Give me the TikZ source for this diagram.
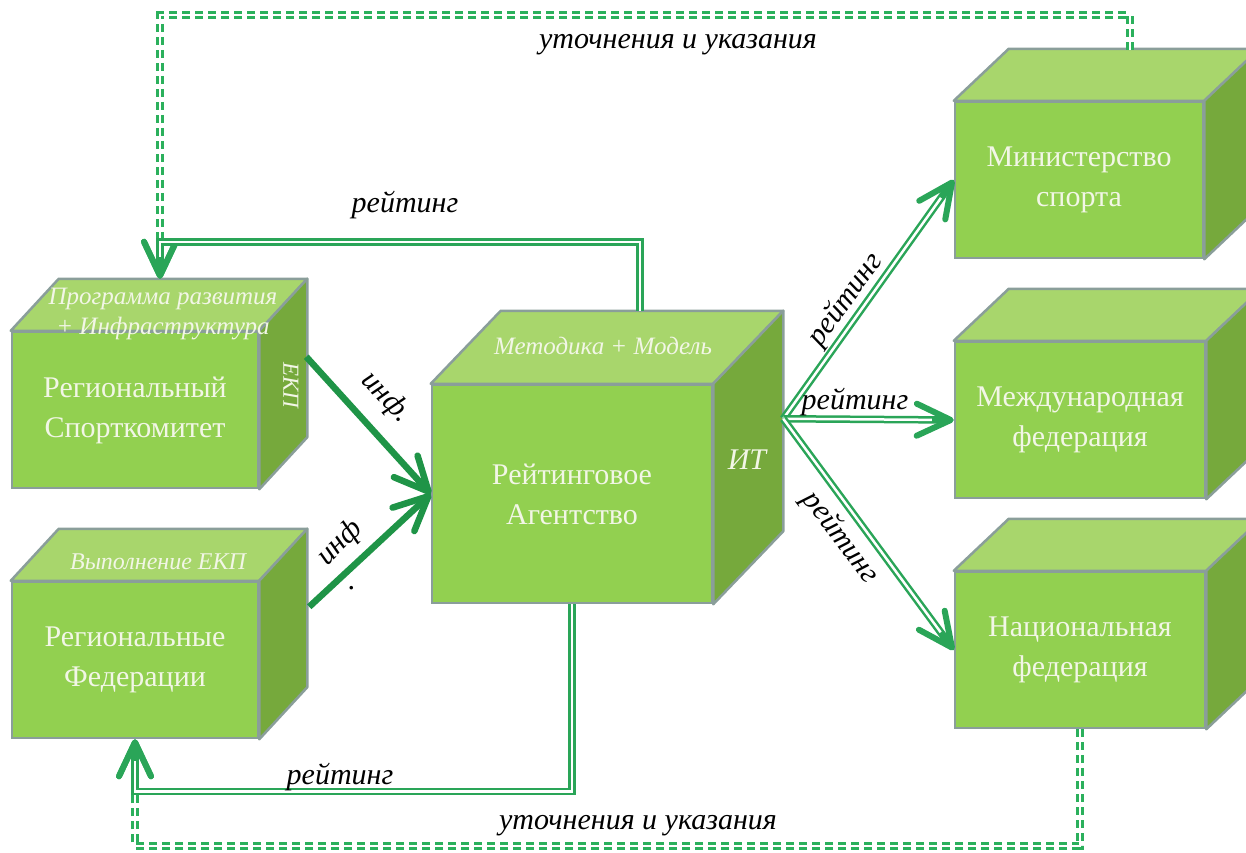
\documentclass[tikz,border=0pt]{standalone}
\usepackage{fontspec}
\setmainfont{Liberation Serif}
\usetikzlibrary{positioning, arrows.meta}
\definecolor{boxfront}{HTML}{92D050}
\definecolor{boxtop}{HTML}{A8D66C}
\definecolor{boxside}{HTML}{76A93C}
\definecolor{boxedge}{HTML}{8A9E9A}
\definecolor{boxtext}{HTML}{F2F6E6}
\definecolor{arrowgreen}{HTML}{1F9447}
\definecolor{linegreen}{HTML}{2AA558}
\definecolor{dashgreen}{HTML}{2BB05C}
\tikzstyle{arrow} = [line width=6.5pt, -{Straight Barb[length=34pt,width=32pt,line width=6.5pt,round]}]

% top and side faces of a box drawn round a named front face
\newcommand{\cubefaces}[3]{%
  \draw[draw=boxedge, line width=2.5pt, line join=round, fill=boxtop] (#1.north west) -- ++(#2,#3) -- ([shift={(#2,#3)}]#1.north east) -- (#1.north east) -- cycle;
  \draw[draw=boxedge, line width=2.5pt, line join=round, fill=boxside] (#1.north east) -- ([shift={(#2,#3)}]#1.north east) -- ([shift={(#2,#3)}]#1.south east) -- (#1.south east) -- cycle;
}

\begin{document}
\begin{tikzpicture}[x=1pt, y=-1pt]
    \tikzstyle{face} = [draw=boxedge, line width=2.5pt, fill=boxfront, minimum width=248pt, minimum height=156pt, inner sep=0pt, text=boxtext, align=center, font=\fontsize{30}{40}\selectfont]
    \tikzstyle{facetxt} = [text=boxtext, align=center, inner sep=0pt, font=\itshape\fontsize{25}{30}\selectfont]
    \tikzstyle{lbl} = [text=black, inner sep=1pt, font=\itshape\fontsize{30}{32}\selectfont]
    \tikzstyle{inf} = [arrow, arrowgreen]
    \tikzstyle{rate} = [linegreen, line width=7.5pt, -{Straight Barb[length=34pt,width=32pt,line width=6pt,round]}, postaction={draw=white, line width=2.5pt, -, shorten >=22pt}]
    \tikzstyle{note} = [dashgreen, line width=8pt, dash pattern=on 8pt off 5pt, -{Straight Barb[length=34pt,width=32pt,line width=6pt,round]}, postaction={draw=white, line width=2pt, solid, -, shorten >=24pt}]

    \useasboundingbox (0,0) rectangle (1246,852);

    % boxes
    \node[face, minimum width=246pt](rsk) at (135,410) {Региональный\\Спорткомитет};
    \cubefaces{rsk}{48}{-52}
    \node[face, minimum width=246pt](rf) at (135,660) {Региональные\\Федерации};
    \cubefaces{rf}{48}{-52}
    \node[face, minimum width=280pt, minimum height=218pt](ra) at (572,494) {Рейтинговое\\Агентство};
    \cubefaces{ra}{70}{-73}
    \node[face](ms) at (1079,180) {Министерство\\спорта};
    \cubefaces{ms}{55}{-52}
    \node[face, minimum width=250pt](mf) at (1080,420) {Международная\\федерация};
    \cubefaces{mf}{55}{-52}
    \node[face, minimum width=250pt](nf) at (1080,650) {Национальная\\федерация};
    \cubefaces{nf}{55}{-52}

    % texts on the faces
    \node[facetxt](prog) at (163,314) {Программа развития\\+ Инфраструктура};
    \node[facetxt, font=\itshape\fontsize{24}{24}\selectfont](vyp) at (158,562) {Выполнение ЕКП};
    \node[facetxt](met) at (603,346) {Методика + Модель};
    \node[facetxt, rotate=-90, font=\itshape\fontsize{23}{24}\selectfont](ekp) at (291,385) {ЕКП};
    \node[facetxt, font=\itshape\fontsize{30}{30}\selectfont](it) at (747,460) {ИТ};

    % feedback
    \draw[note] ([shift={(51,-51)}]ms.north) -- ++(0,-35) -| ([shift={(25,-52)}]rsk.north);
    \draw[note] (nf.south) -- ++(0,117) -| (rf.south);
    \draw[rate] ([shift={(68,-73)}]ra.north) |- ([shift={(25,-89)}]rsk.north) -- ([shift={(25,-52)}]rsk.north);
    \draw[rate] (ra.south) |- ([yshift=-52pt]rf.south) -- (rf.south);

    % rating out of the agency
    \draw[rate] ([shift={(70,35)}]ra.north east) -- (ms.west);
    \draw[rate] ([shift={(70,35)}]ra.north east) -- (mf.west);
    \draw[rate] ([shift={(70,35)}]ra.north east) -- (nf.west);

    % information into the agency
    \draw[inf] ([shift={(47,26)}]rsk.north east) -- (ra.west);
    \draw[inf] ([shift={(50,26)}]rf.north east) -- (ra.west);

    % labels
    \node[lbl](r1) at (405,205) {рейтинг};
    \node[lbl](r2) at (340,777) {рейтинг};
    \node[lbl](u1) at (678,45) {уточнения и указания};
    \node[lbl](u2) at (638,826) {уточнения и указания};
    \node[lbl, rotate=-46](i1) at (386,398) {инф.};
    \node[lbl, rotate=45](i2) at (340,543) {инф};
    \node[lbl](i3) at (352,588) {.};
    \node[lbl, rotate=54](r3) at (846,300) {рейтинг};
    \node[lbl](r4) at (855,402) {рейтинг};
    \node[lbl, rotate=-53](r5) at (840,538) {рейтинг};
\end{tikzpicture}
\end{document}
